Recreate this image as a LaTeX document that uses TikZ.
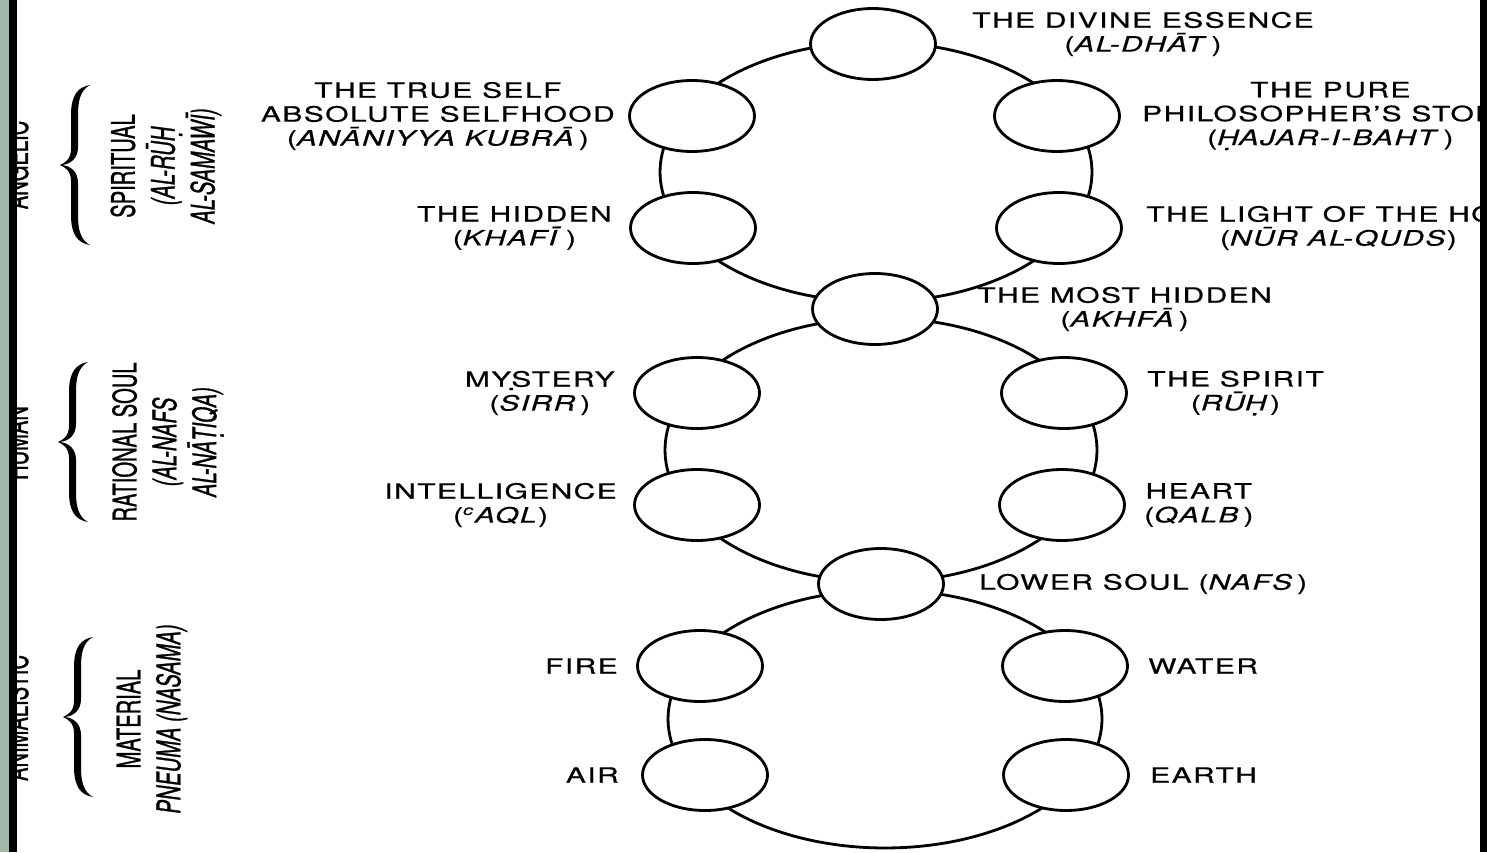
\documentclass[tikz,border=0pt]{standalone}
\usepackage{fontspec}
\setmainfont{TeX Gyre Heros}[FakeStretch=1.42,LetterSpace=7,FakeBold=0.6]
\newfontfamily\condfont{TeX Gyre Heros}[FakeStretch=0.62,FakeBold=0.9]
\usetikzlibrary{shapes.geometric,positioning}
\definecolor{marble}{HTML}{A0B8A8}
\newcommand\dotu[1]{\oalign{#1\crcr\hidewidth\vbox to.2ex{\hbox{.}\vss}\hidewidth}}

\begin{document}
\begin{tikzpicture}[x=0.02cm,y=-0.02cm,
  soul/.style={ellipse,draw,fill=white,line width=1.6pt,
    minimum width=2.5cm,minimum height=1.42cm,inner sep=0pt},
  ring/.style={line width=1.6pt},
  lbl/.style={font=\fontsize{12}{13.6}\selectfont,align=center,inner sep=0pt},
  side/.style={font=\condfont\fontsize{18.5}{22.7}\selectfont,align=center,
    inner sep=0pt,rotate=90},
  pics/soulbrace/.style={code={
    \fill (30,-80) .. controls (18,-78) and (11,-70) .. (11,-50) -- (11,-16)
      .. controls (11,-6) and (5,-2) .. (0,0) .. controls (5,2) and (11,6) .. (11,16)
      -- (11,50) .. controls (11,70) and (18,78) .. (30,80)
      .. controls (21,75) and (18,66) .. (18,50) -- (18,18)
      .. controls (18,7) and (11,1) .. (2,0) .. controls (11,-1) and (18,-7) .. (18,-18)
      -- (18,-50) .. controls (18,-66) and (21,-75) .. (30,-80) -- cycle;}}]
  \useasboundingbox (0,0) rectangle (1487,852);
  \fill[white] (0,0) rectangle (1487,852);

 \begin{scope}
  \clip (17,0) rectangle (1480,852);
  % the three rings
  \coordinate (ringA) at (876,172);
  \coordinate (ringB) at (881,450);
  \coordinate (ringC) at (885,719);
  \draw[ring] (ringA) ellipse [x radius=4.32cm, y radius=2.6cm];
  \draw[ring] (ringB) ellipse [x radius=4.32cm, y radius=2.64cm];
  \draw[ring] (ringC) ellipse [x radius=4.34cm, y radius=2.58cm];

  % spiritual ring
  \node[soul] (essence) at (873,44) {};
  \node[soul] (tself) at (692,116) {};
  \node[soul] (pure) at (1057,116) {};
  \node[soul] (hidden) at (693,228) {};
  \node[soul] (light) at (1059,228) {};
  \node[soul] (mosthid) at (875,309) {};
  % rational ring
  \node[soul] (mystery) at (697,393) {};
  \node[soul] (spirit) at (1064,393) {};
  \node[soul] (intel) at (697,505) {};
  \node[soul] (heart) at (1062,505) {};
  \node[soul] (lower) at (881,584) {};
  % material ring
  \node[soul] (fire) at (700,666) {};
  \node[soul] (water) at (1065,666) {};
  \node[soul] (air) at (705,775) {};
  \node[soul] (earth) at (1066,775) {};

  \node[lbl,right=0.7cm of essence,yshift=0.2cm] (essenceL)
    {THE DIVINE ESSENCE\\(\textit{AL-DHĀT}\,)};
  \node[lbl,left=0.26cm of tself] (tselfL)
    {THE TRUE SELF\\ABSOLUTE SELFHOOD\\(\textit{ANĀNIYYA KUBRĀ}\,)};
  \node[lbl,right=0.42cm of pure] (pureL)
    {THE PURE\\PHILOSOPHER’S STONE\\(\textit{\dotu{H}AJAR-I-BAHT}\,)};
  \node[lbl,left=0.34cm of hidden] (hiddenL) {THE HIDDEN\\(\textit{KHAFĪ}\,)};
  \node[lbl,right=0.46cm of light] (lightL)
    {THE LIGHT OF THE HOLY\\(\textit{NŪR AL-QUDS})};
  \node[lbl,right=0.76cm of mosthid] (mosthidL) {THE MOST HIDDEN\\(\textit{AKHFĀ}\,)};
  \node[lbl,left=0.36cm of mystery] (mysteryL)
    {MY\makebox[0pt]{\raisebox{-0.3ex}{.}}STERY\\(\textit{SIRR}\,)};
  \node[lbl,right=0.38cm of spirit] (spiritL) {THE SPIRIT\\(\textit{RŪ\dotu{H}}\,)};
  \node[lbl,left=0.32cm of intel] (intelL)
    {INTELLIGENCE\\(\textsuperscript{\textit{c}}\textit{AQL})};
  \node[lbl,right=0.36cm of heart] (heartL) {HEART\\(\textit{QALB}\,)};
  \node[lbl,right=0.68cm of lower] (lowerL) {LOWER SOUL (\textit{NAFS}\,)};
  \node[lbl,left=0.36cm of fire] (fireL) {FIRE};
  \node[lbl,right=0.38cm of water] (waterL) {WATER};
  \node[lbl,left=0.44cm of air] (airL) {AIR};
  \node[lbl,right=0.4cm of earth] (earthL) {EARTH};

  % the side groups
  \pic at (60,165) {soulbrace};
  \pic at (58,442) {soulbrace};
  \pic at (63,717) {soulbrace};
  \node[side] (spiritual) at (166,166)
    {SPIRITUAL\\{\itshape (AL-RŪ\dotu{H}}\\{\itshape AL-SAMAWĪ)}};
  \node[side] (rational) at (168,442)
    {RATIONAL SOUL\\{\itshape (AL-NAFS}\\{\itshape AL-NĀ\dotu{T}IQA)}};
  \node[side] (material) at (152,719) {MATERIAL\\{\itshape PNEUMA (NASAMA)}};
  \node[side,anchor=base] (angelic) at (28,165) {ANGELIC};
  \node[side,anchor=base] (human) at (28,443) {HUMAN};
  \node[side,anchor=base] (animal) at (28,718) {ANIMALISTIC};
 \end{scope}

  % frame
  \fill[marble] (0,0) rectangle (8.5,852);
  \fill[black] (8.5,0) rectangle (17,852);
  \fill[black] (1480,0) rectangle (1487,852);
\end{tikzpicture}
\end{document}
